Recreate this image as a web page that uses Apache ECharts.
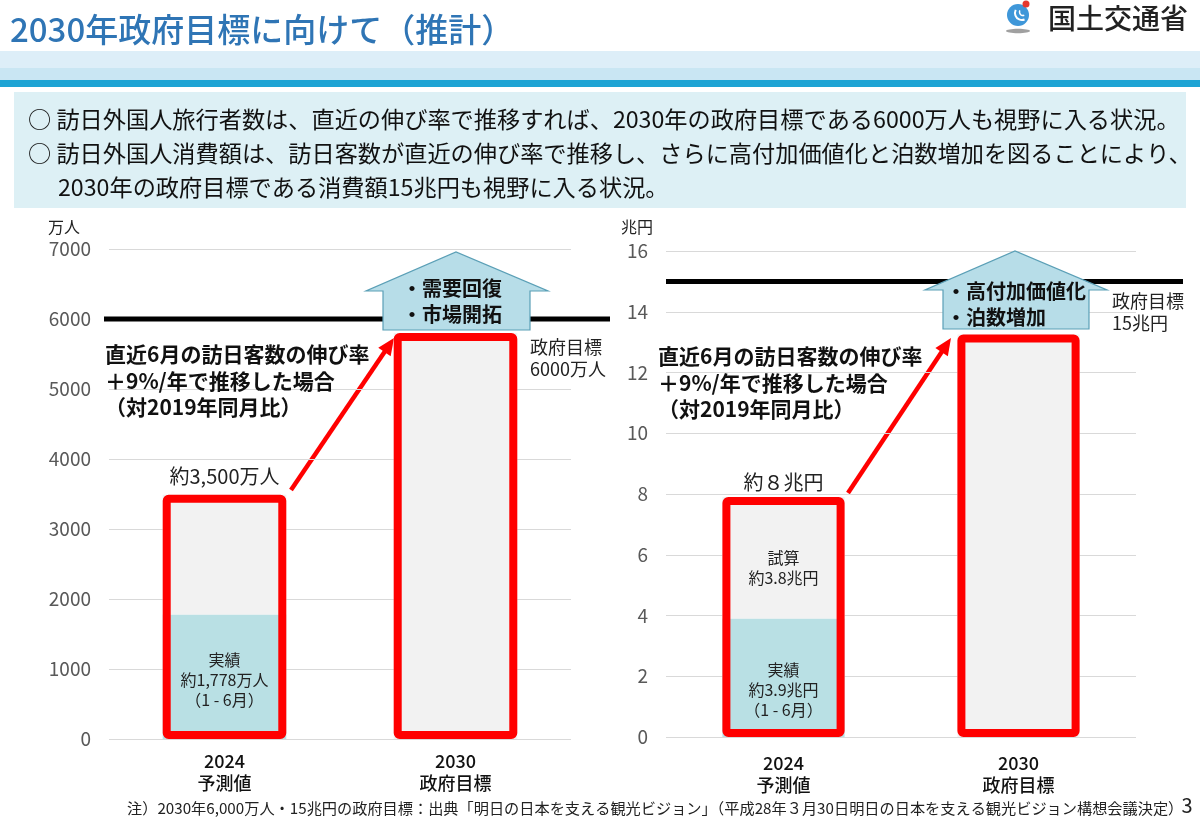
<!DOCTYPE html>
<html><head><meta charset="utf-8">
<script src="https://cdn.jsdelivr.net/npm/echarts@6/dist/echarts.min.js"></script>
<style>html,body{margin:0;padding:0;background:#fff}#c{width:1200px;height:834px}</style>
</head><body><div id="c"></div>
<script>
// ---- data ----
const categories = ['2024', '2030'];
const categorySubLabels = ['予測値', '政府目標'];
const visitorTicks = [0, 1000, 2000, 3000, 4000, 5000, 6000, 7000];
const spendTicks = [0, 2, 4, 6, 8, 10, 12, 14, 16];
const visitorsActual = [1778, null];      // 万人 実績(1-6月)
const visitorsTotal = [3490, 5800];       // 万人 bar heights as drawn
const visitorsTarget = 6000;              // 政府目標
const spendActual = [3.9, null];          // 兆円 実績(1-6月)
const spendTotal = [7.9, 13.25];          // 兆円 bar heights as drawn
const spendTarget = 15;                   // 政府目標
const visitorTopLabels = ['約3,500万人', ''];
const spendTopLabels = ['約８兆円', ''];
const visitorActualLabels = ['実績\n約1,778万人\n（1 - 6月）', ''];
const visitorRestLabels = ['', ''];
const spendActualLabels = ['実績\n約3.9兆円\n（1 - 6月）', ''];
const spendRestLabels = ['試算\n約3.8兆円', ''];

const FONT = "'Noto Sans CJK JP','Noto Sans',sans-serif";
const RED = '#ff0000', TEAL = '#b9e0e4', GREY = '#f2f2f2';

function rest(total, actual) { return total.map((t, i) => actual[i] == null ? t : +(t - actual[i]).toFixed(3)); }

function itemsWithLabels(values, labels, offsetY) {
  return values.map((v, i) => ({
    value: v,
    label: labels[i] ? { show: true, position: 'inside', formatter: labels[i], offset: [0, offsetY],
      fontSize: 16, lineHeight: 20, color: '#222', fontFamily: FONT } : { show: false }
  }));
}

function barSeries(axisIdx, bw, actual, total, actualLabels, actualOff, restLabels, restOff, topLabels, topDist) {
  return [
    { type: 'bar', xAxisIndex: axisIdx, yAxisIndex: axisIdx, stack: 's' + axisIdx, barWidth: bw, barGap: '-100%',
      itemStyle: { color: TEAL }, data: itemsWithLabels(actual, actualLabels, actualOff), z: 2, silent: true },
    { type: 'bar', xAxisIndex: axisIdx, yAxisIndex: axisIdx, stack: 's' + axisIdx, barWidth: bw, barGap: '-100%',
      itemStyle: { color: GREY }, data: itemsWithLabels(rest(total, actual), restLabels, restOff), z: 2, silent: true },
    { type: 'bar', xAxisIndex: axisIdx, yAxisIndex: axisIdx, barWidth: bw, barGap: '-100%', z: 3, silent: true,
      itemStyle: { color: 'rgba(0,0,0,0)', borderColor: RED, borderWidth: 8, borderJoin: 'round', borderRadius: 2 },
      label: { show: true, position: 'top', distance: topDist, fontSize: 20, color: '#222', fontFamily: FONT,
        formatter: p => topLabels[p.dataIndex] },
      data: total }
  ];
}

function targetLine(axisIdx, target) {
  return { type: 'line', xAxisIndex: axisIdx, yAxisIndex: axisIdx, symbol: 'none', silent: true, z: 1,
    lineStyle: { color: '#000', width: 5 }, data: [[0, target], [1, target]] };
}

function catAxis(gridIndex, margin) {
  return { type: 'category', gridIndex, data: categories,
    axisLine: { show: false }, axisTick: { show: false },
    axisLabel: { margin, formatter: (v, i) => '{a|' + v + '}\n{b|' + categorySubLabels[i] + '}',
      rich: { a: { fontSize: 18, lineHeight: 22, color: '#111', fontFamily: FONT, fontWeight: 500 },
              b: { fontSize: 18, lineHeight: 22, color: '#111', fontFamily: FONT, fontWeight: 500 } } } };
}
function valAxis(gridIndex, ticks) {
  return { type: 'value', gridIndex, min: ticks[0], max: ticks[ticks.length - 1], interval: ticks[1] - ticks[0],
    axisLine: { show: false }, axisTick: { show: false },
    splitLine: { lineStyle: { color: '#d9d9d9', width: 1 } },
    axisLabel: { margin: 18, fontSize: 19, color: '#595959', fontFamily: FONT, formatter: v => String(v) } };
}
function hiddenX(gridIndex) { return { type: 'value', gridIndex, min: 0, max: 1, show: false }; }
function hiddenY(gridIndex, ticks) { return { type: 'value', gridIndex, min: ticks[0], max: ticks[ticks.length - 1], show: false }; }

// ---- annotations ----
function text(t, x, y, font, fill, align, extra) {
  return Object.assign({ type: 'text', z: 100, silent: true,
    style: Object.assign({ text: t, x, y, font, fill, textAlign: align || 'left', textVerticalAlign: 'middle' }, extra || {}) });
}
function arrow(x1, y1, x2, y2) {
  const a = Math.atan2(y2 - y1, x2 - x1), L = 17, W = 7.5;
  const bx = x2 - L * Math.cos(a), by = y2 - L * Math.sin(a);
  const px = -Math.sin(a) * W, py = Math.cos(a) * W;
  return { type: 'group', z: 101, silent: true, children: [
    { type: 'line', shape: { x1, y1, x2: bx + L * 0.2 * Math.cos(a), y2: by + L * 0.2 * Math.sin(a) }, style: { stroke: RED, lineWidth: 4.5 } },
    { type: 'polygon', shape: { points: [[x2, y2], [bx + px, by + py], [bx - px, by - py]] }, style: { fill: RED } }
  ] };
}
function house(l, r, el, er, apexX, apexY, eaveY, bottom) {
  return { type: 'polygon', z: 99, silent: true,
    shape: { points: [[l, bottom], [l, eaveY], [el, eaveY], [apexX, apexY], [er, eaveY], [r, eaveY], [r, bottom]] },
    style: { fill: '#b7dde8', stroke: '#5a9fb6', lineWidth: 1.2 } };
}
const B = 'bold 21px ' + FONT, BH = 'bold 20px ' + FONT, BT = '23.2px ' + FONT;
const graphics = [
  // header
  text('2030年政府目標に向けて（推計）', 10, 29, '500 33px ' + FONT, '#2f75b5'),
  { type: 'circle', z: 100, shape: { cx: 1018, cy: 15, r: 11 }, style: { fill: '#3f97d9' } },
  { type: 'arc', z: 101, shape: { cx: 1022, cy: 13, r: 7, startAngle: 1.2, endAngle: 3.6 }, style: { stroke: '#fff', lineWidth: 2, fill: null } },
  { type: 'arc', z: 101, shape: { cx: 1023, cy: 12, r: 3.5, startAngle: 1.2, endAngle: 3.6 }, style: { stroke: '#fff', lineWidth: 1.5, fill: null } },
  { type: 'circle', z: 102, shape: { cx: 1026, cy: 4, r: 3.5 }, style: { fill: '#e5372e' } },
  { type: 'ellipse', z: 100, shape: { cx: 1018, cy: 31, rx: 12, ry: 2.2 }, style: { fill: '#a0a0a0' } },
  text('国土交通省', 1048, 18, '500 28px ' + FONT, '#222'),
  { type: 'rect', z: 0, shape: { x: 0, y: 51, width: 1200, height: 17 }, style: { fill: '#ddeef8' } },
  { type: 'rect', z: 0, shape: { x: 0, y: 68, width: 1200, height: 12 }, style: { fill: '#c9e6f3' } },
  { type: 'rect', z: 0, shape: { x: 0, y: 80, width: 1200, height: 7 }, style: { fill: '#1ea4d4' } },
  // bullets
  { type: 'rect', z: 0, shape: { x: 14, y: 92, width: 1172, height: 116 }, style: { fill: '#ddf0f5' } },
  text('○ 訪日外国人旅行者数は、直近の伸び率で推移すれば、2030年の政府目標である6000万人も視野に入る状況。', 28, 119, BT, '#111'),
  text('○ 訪日外国人消費額は、訪日客数が直近の伸び率で推移し、さらに高付加価値化と泊数増加を図ることにより、', 28, 153, BT, '#111'),
  text('2030年の政府目標である消費額15兆円も視野に入る状況。', 58, 187, BT, '#111'),
  // units
  text('万人', 48, 227, '16px ' + FONT, '#222'),
  text('兆円', 621, 227, '16px ' + FONT, '#222'),
  // left annotations
  house(383, 530, 366, 548, 456, 252, 291, 330),
  text('・需要回復', 402, 288, BH, '#111'),
  text('・市場開拓', 402, 314, BH, '#111'),
  text('直近6月の訪日客数の伸び率', 105, 354, B, '#111'),
  text('＋9%/年で推移した場合', 105, 381, B, '#111'),
  text('（対2019年同月比）', 105, 407, B, '#111'),
  text('政府目標\n6000万人', 530, 358, '18px ' + FONT, '#222', 'left', { lineHeight: 22 }),
  arrow(291, 490, 394, 338),
  // right annotations
  house(943, 1089, 925, 1107, 1015, 251, 290, 329),
  text('・高付加価値化', 946, 291, BH, '#111'),
  text('・泊数増加', 946, 317, BH, '#111'),
  text('直近6月の訪日客数の伸び率', 658, 356, B, '#111'),
  text('＋9%/年で推移した場合', 658, 383, B, '#111'),
  text('（対2019年同月比）', 658, 409, B, '#111'),
  text('政府目標\n15兆円', 1112, 312, '18px ' + FONT, '#222', 'left', { lineHeight: 22 }),
  arrow(848, 493, 951, 338),
  // footer
  text('注）2030年6,000万人・15兆円の政府目標：出典「明日の日本を支える観光ビジョン」（平成28年３月30日明日の日本を支える観光ビジョン構想会議決定）', 127, 808, '15.2px ' + FONT, '#222'),
  text('3', 1187, 805, '20px ' + FONT, '#222', 'center')
];

const chart = echarts.init(document.getElementById('c'));
chart.setOption({
  animation: false,
  backgroundColor: '#fff',
  textStyle: { fontFamily: FONT },
  grid: [
    { left: 109, width: 462, top: 249, height: 490 },
    { left: 666, width: 470, top: 251, height: 486 },
    { left: 104, width: 506, top: 249, height: 490 },
    { left: 666, width: 517, top: 251, height: 486 }
  ],
  xAxis: [catAxis(0, 11), catAxis(1, 15), hiddenX(2), hiddenX(3)],
  yAxis: [valAxis(0, visitorTicks), valAxis(1, spendTicks), hiddenY(2, visitorTicks), hiddenY(3, spendTicks)],
  series: [
    ...barSeries(0, '53.5%', visitorsActual, visitorsTotal, visitorActualLabels, 3, visitorRestLabels, 0, visitorTopLabels, 8),
    ...barSeries(1, '52%', spendActual, spendTotal, spendActualLabels, 12, spendRestLabels, 10, spendTopLabels, 5),
    targetLine(2, visitorsTarget),
    targetLine(3, spendTarget)
  ],
  graphic: graphics
});
</script></body></html>
